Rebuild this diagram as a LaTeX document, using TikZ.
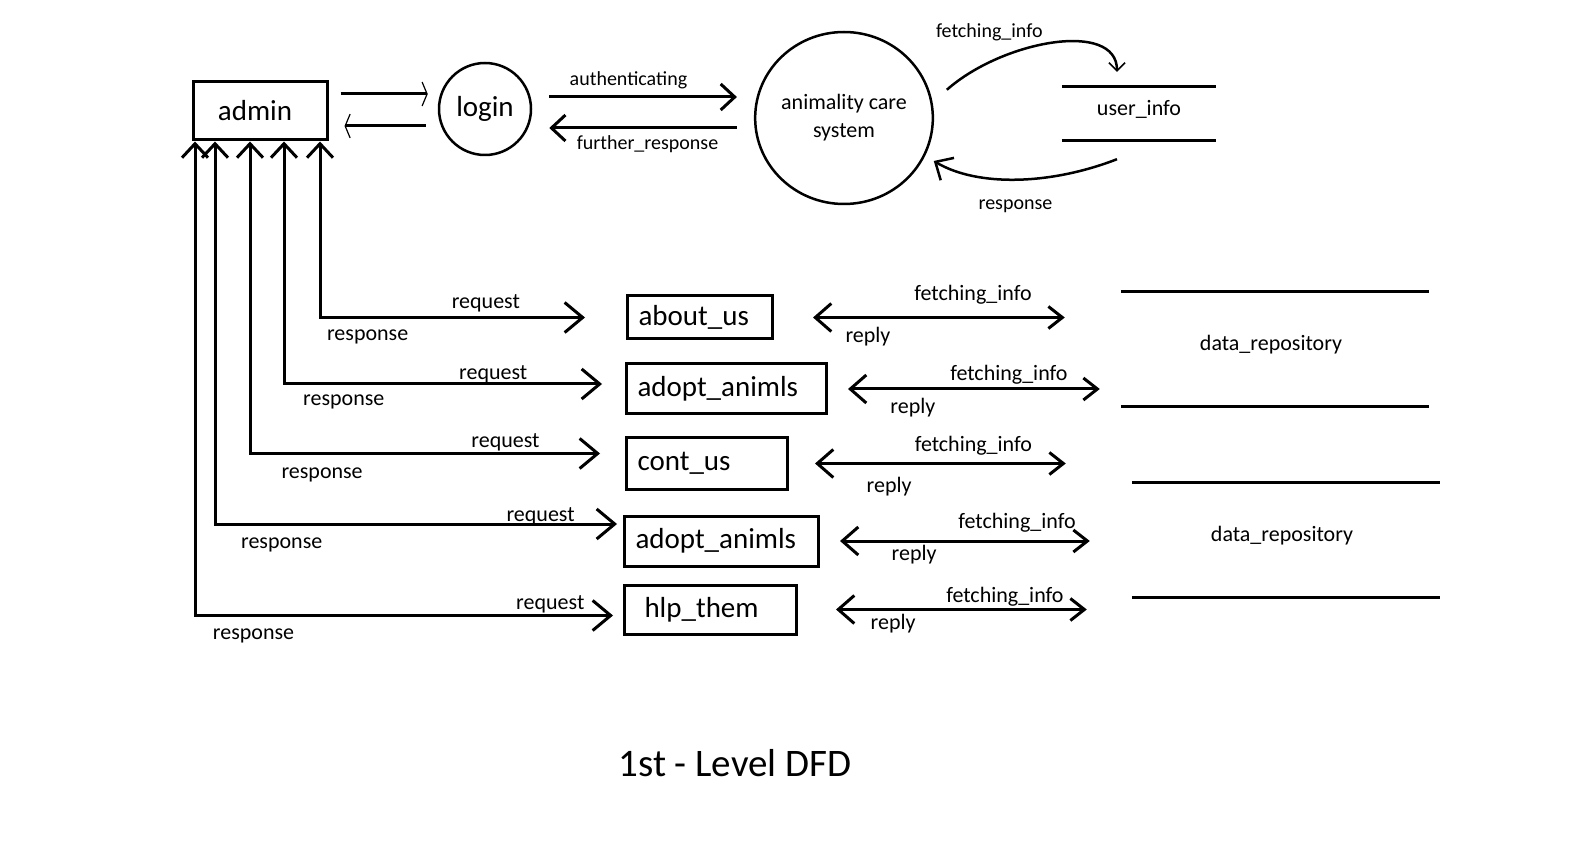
\documentclass[tikz,border=0pt]{standalone}
\usepackage{fontspec}
\setmainfont{Carlito}
\usetikzlibrary{arrows.meta,shapes.geometric}

\newcommand{\bigfont}{\fontsize{29}{34}\selectfont}
\newcommand{\lblfont}{\fontsize{22}{28}\selectfont}
\newcommand{\smlfont}{\fontsize{20}{24}\selectfont}
\newcommand{\ttlfont}{\fontsize{39}{46}\selectfont}

\tikzset{
	ent/.style={draw, line width=3pt, minimum width=134pt, minimum height=58pt, inner sep=0pt, font=\bigfont},
	proc/.style={draw, circle, line width=2.5pt, minimum size=92pt, inner sep=0pt, font=\bigfont},
	sysproc/.style={draw, ellipse, line width=2.5pt, minimum width=174pt, minimum height=172pt, inner sep=0pt, align=center, font=\lblfont},
	pbox/.style 2 args={draw, line width=3pt, anchor=west, inner xsep=11pt, inner ysep=0pt, text width=#1, minimum height=#2, align=left, font=\bigfont},
	store/.style={inner sep=0pt, font=\lblfont},
	lbl/.style={inner sep=2pt, font=\lblfont},
	slbl/.style={inner sep=2pt, font=\smlfont},
	thinflow/.style={line width=3pt, -{Straight Barb[length=5pt,width=24pt,line width=1.2pt]}},
	midflow/.style={line width=3pt, -{Straight Barb[length=14pt,width=26pt]}},
	reqflow/.style={line width=3pt, {Straight Barb[length=14pt,width=26pt]}-{Straight Barb[length=18pt,width=30pt]}},
	dflow/.style={line width=3pt, {Straight Barb[length=16pt,width=28pt]}-{Straight Barb[length=14pt,width=22pt]}},
	curveflow/.style={line width=2.5pt}
}

\begin{document}
\begin{tikzpicture}[x=1pt, y=-1pt]
		\useasboundingbox (0,0) rectangle (1572,866);
		% 管理者・ログイン・システム
		\node[ent] (admin) at (260,111) {admin\hspace*{10pt}};
		\node[proc] (login) at (485,109) {login};
		\node[sysproc] (sys) at (844,118) {animality care\\system};
		\node[store, minimum width=154pt, minimum height=53pt] (uinfo) at (1139,113.5) {\raisebox{-2pt}[0pt][0pt]{user\_info}};
		\draw[line width=3pt] (uinfo.north west) -- (uinfo.north east)
		(uinfo.south west) -- (uinfo.south east)
		;
		% 処理
		\node[pbox={123pt}{43pt}] (about) at (626,317.5) {about\_us};
		\node[pbox={178pt}{50pt}] (adoptA) at (625,389) {adopt\_animls};
		\node[pbox={139pt}{51pt}] (cont) at (625,463.5) {cont\_us};
		\node[pbox={172pt}{50pt}] (adoptB) at (623,541) {adopt\_animls};
		\node[pbox={150pt}{49pt}, inner xsep=11pt] (hlp) at (623,609.5) {\hspace*{9pt}hlp\_them};
		% データストア
		\node[store, minimum width=308pt, minimum height=114pt] (repoA) at (1275,349) {\raisebox{-2pt}[0pt][0pt]{data\_repository}\hspace*{8pt}};
		\node[store, minimum width=308pt, minimum height=114pt] (repoB) at (1286,540) {\raisebox{-1pt}[0pt][0pt]{data\_repository}\hspace*{8pt}};
		\draw[line width=3pt] (repoA.north west) -- (repoA.north east)
		(repoA.south west) -- (repoA.south east)
		(repoB.north west) -- (repoB.north east)
		(repoB.south west) -- (repoB.south east)
		;
		% 上段の矢印
		\draw[thinflow, shorten <=12pt, shorten >=10pt] ([yshift=17pt]admin.east)
		-- ([yshift=15pt]login.west)
		;
		\draw[thinflow, shorten <=12pt, shorten >=16pt] ([yshift=-17pt]login.west)
		-- ([yshift=-15pt]admin.east)
		;
		\draw[midflow, shorten <=17pt, shorten >=17pt] ([yshift=12pt]login.east)
		-- node[slbl, above=5pt, pos=.434] (auth) {authenticating} ([yshift=21pt]sys.west)
		;
		\draw[midflow, shorten <=17pt, shorten >=17pt] ([yshift=-10pt]sys.west)
		-- node[slbl, below=4pt, pos=.48] (furth) {further\_response} ([yshift=-19pt]login.east)
		;
		\draw[curveflow, -{Straight Barb[length=8pt,width=16pt,line width=1.5pt]}, shorten <=19pt] (sys.10)
		.. controls +(70,-62) and +(0,-52) .. node[slbl, pos=.3, above=14pt, xshift=-14pt] (fi0) {fetching\_info} ([xshift=-22pt,yshift=15pt]uinfo.north)
		;
		\draw[curveflow, -{Straight Barb[length=14pt,width=26pt]}, shorten >=10pt] ([xshift=-22pt,yshift=-19pt]uinfo.south)
		.. controls +(-67,26) and +(52,31) .. node[slbl, pos=.5, below=18pt] (rsp0) {response} (sys.335)
		;
		% request / response
		\draw[reqflow] ([xshift=128.5pt]admin.south west)
		|- node[lbl, above=2pt, pos=.813] (rq1) {request} node[lbl, below=9pt, pos=.59] (rs1) {response} ([xshift=-41pt]about.west)
		;
		\draw[reqflow] ([xshift=92.5pt]admin.south west)
		|- node[lbl, above=-3pt, pos=.829] (rq2) {request} node[lbl, below=7pt, pos=.594] (rs2) {response} ([xshift=-23pt,yshift=5pt]adoptA.west)
		;
		\draw[reqflow] ([xshift=58.5pt]admin.south west)
		|- node[lbl, above=-1pt, pos=.865] (rq3) {request} node[lbl, below=11pt, pos=.603] (rs3) {response} ([xshift=-25pt,yshift=10pt]cont.west)
		;
		\draw[reqflow] ([xshift=23.5pt]admin.south west)
		|- node[lbl, above=-5pt, pos=.905] (rq4) {request} node[lbl, below=10pt, pos=.583] (rs4) {response} ([xshift=-6pt,yshift=17pt]adoptB.west)
		;
		\draw[reqflow] ([xshift=3.5pt]admin.south west)
		|- node[lbl, above=-1pt, pos=.925] (rq5) {request} node[lbl, below=10pt, pos=.57] (rs5) {response} ([xshift=-10pt,yshift=-6pt]hlp.west)
		;
		% fetching_info / reply
		\draw[dflow, shorten <=39pt, shorten >=56pt] (about.east)
		-- node[lbl, above=10pt, pos=.574] (fi1) {fetching\_info} node[lbl, below=6pt, pos=.271] (rp1) {reply} (about.east -| repoA.west)
		;
		\draw[dflow, shorten <=20pt, shorten >=21pt] (adoptA.east)
		-- node[lbl, above=1pt, pos=.618] (fi2) {fetching\_info} node[lbl, below=6pt, pos=.29] (rp2) {reply} (adoptA.east -| repoA.west)
		;
		\draw[dflow, shorten <=26pt, shorten >=66pt] (cont.east)
		-- node[lbl, above=5pt, pos=.538] (fi3) {fetching\_info} node[lbl, below=10pt, pos=.292] (rp3) {reply} (cont.east -| repoB.west)
		;
		\draw[dflow, shorten <=20pt, shorten >=42pt] (adoptB.east)
		-- node[lbl, above=5pt, pos=.632] (fi4) {fetching\_info} node[lbl, below=1pt, pos=.302] (rp4) {reply} (adoptB.east -| repoB.west)
		;
		\draw[dflow, shorten <=38pt, shorten >=45pt] (hlp.east)
		-- node[lbl, above=0pt, pos=.62] (fi5) {fetching\_info} node[lbl, below=1pt, pos=.285] (rp5) {reply} (hlp.east -| repoB.west)
		;
		% タイトル
		\node[font=\ttlfont] (title) at (735,763) {1st - Level DFD};
	\end{tikzpicture}
\end{document}
